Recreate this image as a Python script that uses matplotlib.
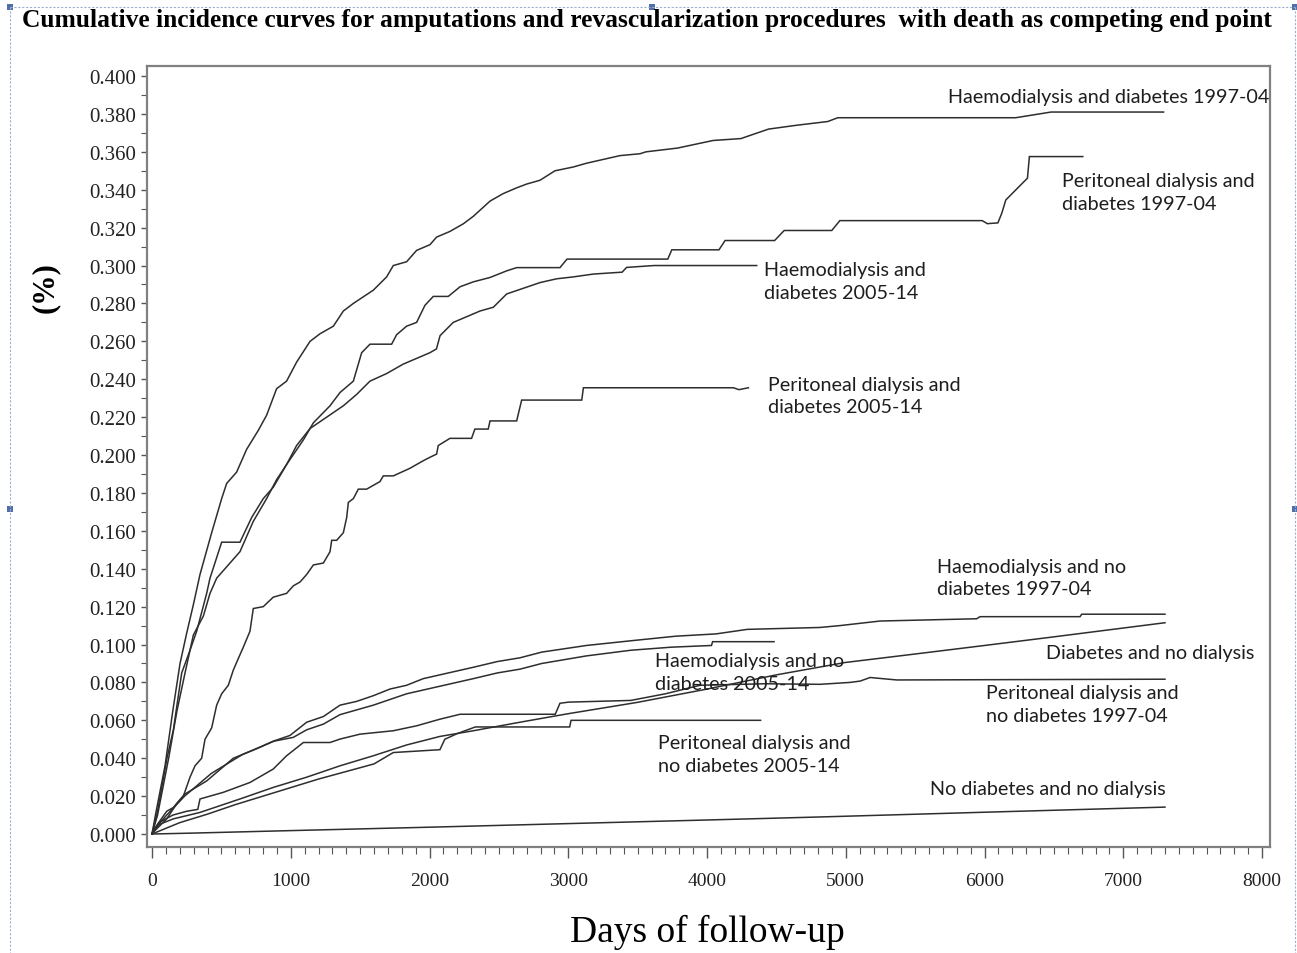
import numpy as np
import matplotlib
matplotlib.use('Agg')
import matplotlib.pyplot as plt
from matplotlib.lines import Line2D
from matplotlib.patches import Rectangle
from matplotlib.ticker import MultipleLocator, FormatStrFormatter

# Cumulative incidence (days, proportion)
hd_dm_97_days = [0, 30, 94, 150, 202, 250, 298, 346, 430, 502, 538, 610, 682, 766, 826, 898, 970,
                 1042, 1139, 1211, 1307, 1379, 1451, 1595, 1691, 1739, 1835, 1907, 2003, 2051, 2147,
                 2243, 2316, 2436, 2532, 2628, 2700, 2796, 2904, 3036, 3132, 3252, 3372, 3517, 3560,
                 3788, 4044, 4244, 4443, 4642, 4870, 4942, 6224, 6479, 7290]
hd_dm_97_vals = [0, 0.012, 0.036, 0.065, 0.090, 0.106, 0.121, 0.137, 0.159, 0.177, 0.185, 0.191,
                 0.203, 0.213, 0.221, 0.235, 0.239, 0.249, 0.260, 0.264, 0.268, 0.276, 0.280, 0.287,
                 0.294, 0.300, 0.302, 0.308, 0.311, 0.315, 0.318, 0.322, 0.326, 0.334, 0.338, 0.341,
                 0.343, 0.345, 0.350, 0.352, 0.354, 0.356, 0.358, 0.359, 0.360, 0.362, 0.366, 0.367,
                 0.372, 0.374, 0.376, 0.378, 0.378, 0.381, 0.381]

pd_dm_97_days = [0, 40, 108, 154, 214, 274, 322, 394, 418, 502, 634, 718, 802, 874, 970, 1091, 1163,
                 1283, 1355, 1451, 1511, 1571, 1727, 1763, 1835, 1907, 1967, 2027, 2135, 2220, 2316,
                 2436, 2556, 2628, 2940, 2991, 3717, 3746, 4086, 4130, 4487, 4556, 4899, 4957, 5983,
                 6020, 6096, 6124, 6153, 6309, 6323, 6708]
pd_dm_97_vals = [0, 0.012, 0.040, 0.055, 0.085, 0.097, 0.107, 0.127, 0.135, 0.154, 0.154, 0.167,
                 0.177, 0.183, 0.195, 0.208, 0.217, 0.226, 0.233, 0.239, 0.254, 0.2585, 0.2585,
                 0.2635, 0.268, 0.270, 0.279, 0.2837, 0.2837, 0.2888, 0.2914, 0.2937, 0.2972, 0.2989,
                 0.2989, 0.3034, 0.3034, 0.3083, 0.3083, 0.3132, 0.3132, 0.3185, 0.3185, 0.3237,
                 0.3237, 0.3221, 0.3225, 0.3276, 0.3346, 0.3461, 0.3575, 0.3575]

hd_dm_05_days = [0, 40, 120, 180, 238, 298, 370, 418, 466, 538, 634, 730, 826, 898, 970, 1042, 1139,
                 1259, 1379, 1475, 1571, 1691, 1811, 1907, 2003, 2050, 2076, 2171, 2268, 2364, 2460,
                 2556, 2676, 2796, 2916, 3036, 3180, 3388, 3420, 3618, 4358]
hd_dm_05_vals = [0, 0.010, 0.040, 0.065, 0.085, 0.105, 0.115, 0.127, 0.135, 0.141, 0.149, 0.165,
                 0.177, 0.187, 0.195, 0.205, 0.214, 0.220, 0.226, 0.232, 0.239, 0.243, 0.248, 0.251,
                 0.254, 0.256, 0.263, 0.270, 0.273, 0.276, 0.278, 0.285, 0.288, 0.291, 0.293, 0.294,
                 0.2955, 0.2965, 0.299, 0.300, 0.300]

pd_dm_05_days = [0, 10, 106, 178, 226, 274, 310, 358, 382, 430, 466, 502, 550, 586, 622, 658, 706,
                 730, 802, 874, 970, 1019, 1067, 1115, 1163, 1235, 1283, 1295, 1331, 1379, 1403, 1415,
                 1451, 1487, 1547, 1643, 1667, 1739, 1859, 1955, 2003, 2051, 2063, 2147, 2303, 2327,
                 2423, 2436, 2628, 2664, 3097, 3109, 4190, 4230, 4298]
pd_dm_05_vals = [0, 0.001, 0.008, 0.016, 0.020, 0.030, 0.036, 0.040, 0.050, 0.056, 0.068, 0.074,
                 0.0785, 0.0865, 0.0926, 0.0986, 0.107, 0.119, 0.120, 0.125, 0.127, 0.131, 0.133,
                 0.137, 0.142, 0.143, 0.149, 0.155, 0.155, 0.159, 0.167, 0.175, 0.177, 0.182, 0.182,
                 0.186, 0.189, 0.189, 0.193, 0.197, 0.1988, 0.2005, 0.205, 0.2088, 0.2088, 0.2137,
                 0.2137, 0.218, 0.218, 0.229, 0.229, 0.2355, 0.2355, 0.2345, 0.2355]

hd_nodm_97_days = [0, 10, 106, 154, 235, 394, 586, 754, 874, 994, 1115, 1235, 1355, 1475, 1595,
                   1715, 1835, 1955, 2075, 2316, 2488, 2652, 2809, 3131, 3453, 3775, 4064, 4290,
                   4814, 4959, 5247, 5943, 5967, 6688, 6700, 7300]
hd_nodm_97_vals = [0, 0.002, 0.012, 0.014, 0.021, 0.028, 0.040, 0.045, 0.049, 0.052, 0.059, 0.062,
                   0.068, 0.070, 0.073, 0.0765, 0.0785, 0.082, 0.084, 0.088, 0.091, 0.093, 0.096,
                   0.0995, 0.102, 0.1044, 0.1056, 0.108, 0.109, 0.110, 0.1124, 0.1136, 0.1147,
                   0.1147, 0.116, 0.116]

hd_nodm_05_days = [0, 10, 106, 235, 428, 653, 879, 1018, 1115, 1235, 1355, 1595, 1835, 2075, 2316,
                   2488, 2652, 2809, 3131, 3453, 3743, 4032, 4040, 4483]
hd_nodm_05_vals = [0, 0.002, 0.010, 0.020, 0.032, 0.042, 0.049, 0.051, 0.055, 0.058, 0.063, 0.068,
                   0.074, 0.078, 0.082, 0.085, 0.087, 0.090, 0.094, 0.097, 0.0986, 0.0995, 0.1015,
                   0.1015]

pd_nodm_97_days = [0, 50, 150, 250, 330, 346, 514, 706, 874, 970, 1091, 1283, 1355, 1499, 1739,
                   1907, 2075, 2220, 2906, 2940, 3002, 3450, 3700, 3950, 4418, 4814, 5030, 5103,
                   5175, 5367, 7300]
pd_nodm_97_vals = [0, 0.006, 0.010, 0.012, 0.013, 0.0185, 0.022, 0.0272, 0.0343, 0.0413, 0.0483,
                   0.0483, 0.0501, 0.0527, 0.0545, 0.0571, 0.0606, 0.0632, 0.0632, 0.0690, 0.0696,
                   0.0705, 0.074, 0.0785, 0.0793, 0.079, 0.080, 0.0807, 0.0826, 0.0813, 0.0817]

pd_nodm_05_days = [0, 100, 200, 400, 600, 800, 1000, 1200, 1400, 1600, 1739, 2075, 2110, 2200, 2330,
                   3010, 3020, 4386]
pd_nodm_05_vals = [0, 0.003, 0.006, 0.0105, 0.0155, 0.020, 0.0245, 0.029, 0.033, 0.037, 0.043,
                   0.0445, 0.050, 0.053, 0.0565, 0.0565, 0.060, 0.060]

dm_nodial_days = [0, 50, 154, 346, 634, 874, 1115, 1355, 1595, 1835, 2075, 2316, 2652, 3000, 3500,
                  4000, 4500, 4994, 5500, 6000, 6494, 7300]
dm_nodial_vals = [0, 0.005, 0.008, 0.0114, 0.0185, 0.0246, 0.030, 0.036, 0.0413, 0.047, 0.0515,
                  0.0545, 0.059, 0.0635, 0.0695, 0.0765, 0.084, 0.0905, 0.095, 0.0995, 0.104, 0.1115]

nodm_nodial_days = [0, 300, 1000, 2000, 3000, 4000, 4814, 6000, 7300]
nodm_nodial_vals = [0, 0.0005, 0.0018, 0.0036, 0.0055, 0.0074, 0.009, 0.0115, 0.0142]

curves = [
    (hd_dm_97_days, hd_dm_97_vals),
    (pd_dm_97_days, pd_dm_97_vals),
    (hd_dm_05_days, hd_dm_05_vals),
    (pd_dm_05_days, pd_dm_05_vals),
    (hd_nodm_97_days, hd_nodm_97_vals),
    (hd_nodm_05_days, hd_nodm_05_vals),
    (pd_nodm_97_days, pd_nodm_97_vals),
    (pd_nodm_05_days, pd_nodm_05_vals),
    (dm_nodial_days, dm_nodial_vals),
    (nodm_nodial_days, nodm_nodial_vals),
]

# curve labels and where they sit (days, proportion)
labels = ['Haemodialysis and diabetes 1997-04',
          'Peritoneal dialysis and\ndiabetes 1997-04',
          'Haemodialysis and\ndiabetes 2005-14',
          'Peritoneal dialysis and\ndiabetes 2005-14',
          'Haemodialysis and no\ndiabetes 1997-04',
          'Haemodialysis and no\ndiabetes 2005-14',
          'Diabetes and no dialysis',
          'Peritoneal dialysis and\nno diabetes 1997-04',
          'Peritoneal dialysis and\nno diabetes 2005-14',
          'No diabetes and no dialysis']
label_x = [5737, 6558, 4411, 4440, 5657, 3625, 6443, 6011, 3647, 5607]
label_y = [0.389, 0.3389, 0.292, 0.2314, 0.1354, 0.0854, 0.0959, 0.0685, 0.0422, 0.0242]

W, H = 1297, 954
fig = plt.figure(figsize=(W / 100, H / 100), dpi=100)
ax = fig.add_axes([147 / W, (H - 848) / H, 1123 / W, 781 / H])

for d, v in curves:
    ax.plot(d, v, color='#2e2e2e', lw=1.1, solid_joinstyle='miter')

for txt, lx, ly in zip(labels, label_x, label_y):
    ax.text(lx, ly, txt, family='Lato', fontsize=14.2, color='#1e1e1e',
            ha='left', va='center', linespacing=1.42)

ax.set_xlim(-36, 8057)
ax.set_ylim(-0.00685, 0.4053)
ax.xaxis.set_major_locator(MultipleLocator(1000))
ax.xaxis.set_minor_locator(MultipleLocator(100))
ax.yaxis.set_major_locator(MultipleLocator(0.02))
ax.yaxis.set_minor_locator(MultipleLocator(0.01))
ax.yaxis.set_major_formatter(FormatStrFormatter('%.3f'))

for s in ax.spines.values():
    s.set_color('#808080')
    s.set_linewidth(1.6)

ax.tick_params(axis='x', which='major', direction='out', length=8, width=1.0, color='#555555',
               pad=10, labelsize=14)
ax.tick_params(axis='x', which='minor', direction='out', length=5, width=0.8, color='#555555')
ax.tick_params(axis='y', which='major', direction='out', length=4, width=1.0, color='#555555',
               pad=4, labelsize=15)
ax.tick_params(axis='y', which='minor', direction='out', length=4, width=0.8, color='#555555')
for lab in ax.get_xticklabels() + ax.get_yticklabels():
    lab.set_family('Liberation Serif')
    lab.set_color('#222222')

fig.text(22 / W, 1 - 21 / H,
         'Cumulative incidence curves for amputations and revascularization procedures  with death as competing end point',
         family='Liberation Serif', fontweight='bold', fontsize=18.4, ha='left', va='center')
fig.text(45 / W, 1 - 288 / H, '(%)', family='Liberation Serif', fontweight='bold', fontsize=22,
         rotation=90, ha='center', va='center')
fig.text(707 / W, 1 - 932 / H, 'Days of follow-up', family='Liberation Serif', fontsize=27,
         ha='center', va='center')

# dashed selection frame with handles, as in the screenshot
fc = '#9fb0cf'
frame = [((10, 8), (1295, 8)), ((10, 8), (10, 954)), ((1295, 8), (1295, 954))]
for (x0, y0), (x1, y1) in frame:
    fig.add_artist(Line2D([x0 / W, x1 / W], [1 - y0 / H, 1 - y1 / H], transform=fig.transFigure,
                          color=fc, lw=0.8, ls=(0, (2, 1.5))))
for hx, hy in [(10, 8), (652, 8), (1295, 8), (10, 510), (1295, 510)]:
    fig.add_artist(Rectangle(((hx - 3) / W, 1 - (hy + 3) / H), 6 / W, 6 / H,
                             transform=fig.transFigure, color='#4f6fa8', lw=0))

fig.savefig('out.png', dpi=100)
